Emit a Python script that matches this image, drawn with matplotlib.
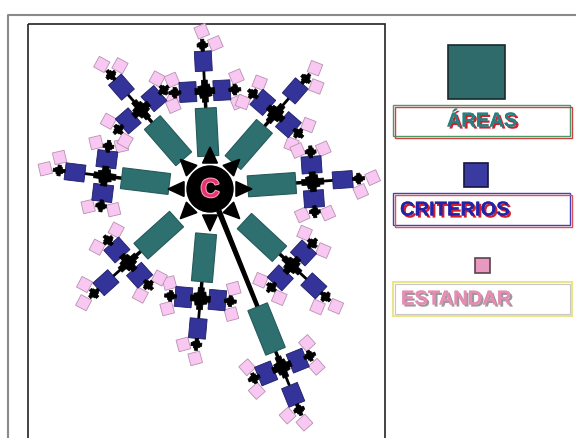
import numpy as np
import matplotlib
matplotlib.use("Agg")
import matplotlib.pyplot as plt
from matplotlib.patches import Polygon, Circle, Rectangle
import matplotlib.patheffects as pe

plt.rcParams['font.family'] = ['Liberation Sans', 'DejaVu Sans']

# diagram structure (angles in degrees, distances in pixels from the centre)
arm_angles = [173, 131, 93, 49, 4, -43, -95, -138, -68]
hub_dist = [106, 105, 98, 100, 103, 112, 110, 110, 192]
star_angles = [0, 45, 90, 135, 180, -45, -90, -135]

legend_labels = ["ÁREAS", "CRITERIOS", "ESTANDAR"]

TEAL = '#2e7070'
BLUE = '#333399'
PINK = '#f9c8f2'

cx, cy = 210, 190


def pt(x, y, r, a):
    t = np.radians(a)
    return x + r * np.cos(t), y - r * np.sin(t)


def box(ax, c, a, length, width, fc, ec, lw=0.8, z=3):
    t = np.radians(a)
    u = np.array([np.cos(t), -np.sin(t)])
    v = np.array([-u[1], u[0]])
    c = np.array(c)
    corners = [c + length / 2 * u + width / 2 * v,
               c + length / 2 * u - width / 2 * v,
               c - length / 2 * u - width / 2 * v,
               c - length / 2 * u + width / 2 * v]
    ax.add_patch(Polygon(corners, closed=True, fc=fc, ec=ec, lw=lw, zorder=z))


def blob(ax, c, a, size, z=5):
    # rough black splat: a square with a cross through it
    box(ax, c, a + 10, size * 1.1, size * 1.1, 'black', 'black', lw=0.5, z=z)
    box(ax, c, a, size * 2, size * 0.55, 'black', 'black', lw=0.5, z=z)
    box(ax, c, a + 90, size * 1.8, size * 0.55, 'black', 'black', lw=0.5, z=z)


fig = plt.figure(figsize=(5.76, 4.39), dpi=100)
ax = fig.add_axes([0, 0, 1, 1])
ax.set_xlim(0, 576)
ax.set_ylim(439, 0)
ax.axis('off')

# frames
ax.plot([7.5, 7.5, 576], [445, 15.5, 15.5], color='#8a8a8a', lw=1.5, zorder=1)
ax.add_patch(Rectangle((28, 24.5), 357, 420, fill=False, ec='#222222', lw=1.2, zorder=1))

# centre star
ax.add_patch(Circle((cx, cy), 23, fc='black', ec='black', zorder=6))
for a in star_angles:
    tip = pt(cx, cy, 42, a)
    b1 = pt(cx, cy, 27, a + 16)
    b2 = pt(cx, cy, 27, a - 16)
    ax.add_patch(Polygon([tip, b1, b2], closed=True, fc='black', ec='black', zorder=6))
ax.text(cx, cy + 1, "C", color='#e8336e', fontsize=19, fontweight='bold',
        ha='center', va='center', zorder=7,
        path_effects=[pe.withStroke(linewidth=1.5, foreground='#f7a0c0')])

for a, d in zip(arm_angles, hub_dist):
    hub = pt(cx, cy, d, a)
    t0, t1 = d - 65, d - 17
    if t0 > 60:
        # long spoke to a far area
        p1 = pt(cx, cy, 24, a + 5)
        p2 = pt(cx, cy, 24, a - 5)
        p3 = pt(cx, cy, t0, a - 0.7)
        p4 = pt(cx, cy, t0, a + 0.7)
        ax.add_patch(Polygon([p1, p2, p3, p4], closed=True, fc='black', ec='black', zorder=2))
    # link area -> hub
    e = pt(cx, cy, t1, a)
    ax.plot([e[0], hub[0]], [e[1], hub[1]], color='black', lw=2.5, zorder=2)
    box(ax, pt(cx, cy, (t0 + t1) / 2, a), a, t1 - t0, 21, TEAL, '#245a5a')

    # three criteria: right side, forward, left side
    for rel, r_c, r_b in [(-90, 17, 30), (0, 30, 46), (90, 17, 30)]:
        ca = a + rel
        cpos = pt(hub[0], hub[1], r_c, ca)
        bpos = pt(hub[0], hub[1], r_b, ca)
        ax.plot([hub[0], bpos[0]], [hub[1], bpos[1]], color='black', lw=2, zorder=2)
        if rel == 0:
            pinks = [(0, 14), (-85, 13)]
        else:
            pinks = [(80, 13), (-80, 13)]
        for pa, pr in pinks:
            ppos = pt(bpos[0], bpos[1], pr, ca + pa)
            box(ax, ppos, ca + 20, 12, 12, PINK, '#b890b0', lw=0.6, z=3)
        box(ax, cpos, a, 20, 17, BLUE, '#1e1e66', lw=0.6, z=4)
        blob(ax, bpos, ca, 6, z=5)
    blob(ax, hub, a, 11, z=5)

# legend
ax.add_patch(Rectangle((448, 45.5), 57, 54, fc='#2f6b6b', ec='#1a2a2a', lw=1.2))
ax.add_patch(Rectangle((464, 163.5), 24, 24, fc='#3a3aa0', ec='#151540', lw=1.2))
ax.add_patch(Rectangle((475, 258.5), 15, 15, fc='#e899c0', ec='#604050', lw=1.2))

ax.add_patch(Rectangle((393, 106), 177, 31, fill=False, ec='#4a9a6a', lw=1))
ax.add_patch(Rectangle((395, 108), 177, 31, fill=False, ec='#d04040', lw=1))
ax.add_patch(Rectangle((393, 194), 177, 32, fill=False, ec='#4040c0', lw=1))
ax.add_patch(Rectangle((395, 196), 177, 32, fill=False, ec='#e05050', lw=1))
ax.add_patch(Rectangle((393, 283), 179, 34, fill=False, ec='#ece48a', lw=1.5))
ax.add_patch(Rectangle((395, 285), 175, 30, fill=False, ec='#c8c8c8', lw=0.8))

legend_text = [(482, 122, 'center', '#2a7f7f', '#d02030'),
               (400, 211, 'left', '#2323a8', '#d02030'),
               (401, 300, 'left', '#e48cb4', '#9a9a9a')]
for lab, (x, y, ha, col, sh) in zip(legend_labels, legend_text):
    ax.text(x, y, lab, color=col, fontsize=14.5, fontweight='bold', ha=ha, va='center',
            path_effects=[pe.withSimplePatchShadow(offset=(1.5, -1.5), shadow_rgbFace=sh, alpha=1),
                          pe.Normal()])

fig.savefig("out.png", dpi=100)
